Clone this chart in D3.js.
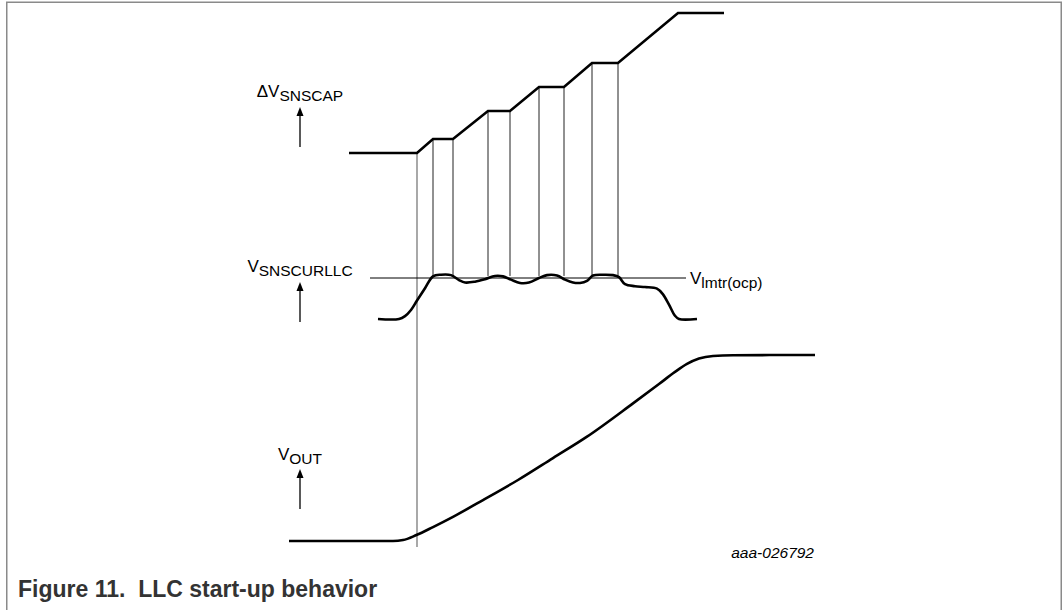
<!DOCTYPE html>
<html>
<head>
<meta charset="utf-8">
<script src="https://cdn.jsdelivr.net/npm/d3@7"></script>
<style>
  html, body { margin: 0; padding: 0; background: #fff; }
  svg { display: block; }
  text { font-family: "Liberation Sans", Arial, sans-serif; fill: #000; }
</style>
</head>
<body>
<svg id="chart" width="1063" height="610"></svg>
<script>
// ---- Data (time in arbitrary units, values in relative units) ----
// ΔV_SNSCAP staircase
const capTime  = [33, 67, 75, 85, 102.5, 113.5, 128, 140.5, 154.5, 167.5, 197.5, 220.5];
const capValue = [0, 0, 0.7, 0.7, 2.1, 2.1, 3.3, 3.3, 4.5, 4.5, 7, 7];
// indices of capTime that carry a vertical marker line
const markerIdx = [1, 2, 3, 4, 5, 6, 7, 8, 9];

// V_SNSCURLLC current-sense waveform
const curTime  = [47.5, 58, 61, 64, 67, 71, 75, 79, 84, 88, 91, 96, 101, 106, 110, 114, 118.5, 123, 128, 132, 137, 141, 145, 148.5, 152, 155, 160, 165, 168, 171, 176, 181, 187, 190, 193, 196, 198, 207];
const curValue = [0, 0, 0.07, 0.22, 0.45, 0.75, 1.04, 1.08, 1.07, 0.95, 0.89, 0.91, 0.97, 1.05, 1.04, 0.96, 0.88, 0.89, 1.0, 1.07, 1.06, 0.96, 0.89, 0.88, 0.93, 1.06, 1.08, 1.07, 1.02, 0.85, 0.8, 0.78, 0.74, 0.6, 0.35, 0.08, 0, 0];
// V_lmtr(ocp) reference level
const limitTime  = [43.5, 201.5];
const limitValue = 1.0;

// V_OUT ramp
const outTime  = [3, 55, 60, 66.7, 75, 85, 100, 117.5, 135, 152, 175, 188, 196, 202, 208, 215, 225, 266];
const outValue = [0, 0, 0.005, 0.032, 0.075, 0.13, 0.22, 0.328, 0.446, 0.561, 0.74, 0.844, 0.909, 0.952, 0.981, 0.995, 0.999, 1.0];

// Labels
const labels = [
  { pre: "\u0394V", sub: "SNSCAP" },
  { pre: "V", sub: "SNSCURLLC" },
  { pre: "V", sub: "OUT" }
];
const limitLabel = { pre: "V", sub: "lmtr(ocp)" };
const codeLabel = "aaa-026792";
const caption = "Figure 11.  LLC start-up behavior";

// ---- Drawing ----
const svg = d3.select("#chart");

const x = d3.scaleLinear().domain([0, 267]).range([283, 817]);
const yCap = d3.scaleLinear().domain([0, 7]).range([153, 13]);
const yCur = d3.scaleLinear().domain([0, 1]).range([319, 278]);
const yOut = d3.scaleLinear().domain([0, 1]).range([541, 355]);

// frame
svg.append("path")
  .attr("d", "M6.75,612 V2.25 H1061.25 V612")
  .attr("fill", "none").attr("stroke", "#8a8a8a").attr("stroke-width", 1.5);

// marker verticals
markerIdx.forEach((i, k) => {
  const t = capTime[i];
  const first = k === 0;
  svg.append("line")
    .attr("x1", x(t)).attr("x2", x(t))
    .attr("y1", yCap(capValue[i]))
    .attr("y2", first ? yOut(-0.032) : yCur(1.05))
    .attr("stroke", first ? "#7a7a7a" : "#222")
    .attr("stroke-width", first ? 1.3 : 1);
});

// limit reference line
svg.append("line")
  .attr("x1", x(limitTime[0])).attr("x2", x(limitTime[1]))
  .attr("y1", yCur(limitValue)).attr("y2", yCur(limitValue))
  .attr("stroke", "#000").attr("stroke-width", 1);

const thick = { stroke: "#000", w: 2.6 };

svg.append("path")
  .datum(d3.zip(capTime, capValue))
  .attr("d", d3.line().x(d => x(d[0])).y(d => yCap(d[1])))
  .attr("fill", "none").attr("stroke", thick.stroke).attr("stroke-width", thick.w)
  .attr("stroke-linejoin", "miter");

svg.append("path")
  .datum(d3.zip(curTime, curValue))
  .attr("d", d3.line().x(d => x(d[0])).y(d => yCur(d[1])).curve(d3.curveCatmullRom.alpha(0.5)))
  .attr("fill", "none").attr("stroke", thick.stroke).attr("stroke-width", thick.w)
  .attr("stroke-linejoin", "round");

svg.append("path")
  .datum(d3.zip(outTime, outValue))
  .attr("d", d3.line().x(d => x(d[0])).y(d => yOut(d[1])).curve(d3.curveMonotoneX))
  .attr("fill", "none").attr("stroke", thick.stroke).attr("stroke-width", thick.w);

// axis labels with arrows
const labelPos = [
  { cx: 300, base: 97, tip: 107, tail: 147 },
  { cx: 300, base: 272, tip: 282, tail: 322 },
  { cx: 300, base: 460, tip: 469, tail: 509 }
];

function subLabel(g, lab, px, py, anchor) {
  const t = g.append("text").attr("x", px).attr("y", py)
    .attr("text-anchor", anchor).style("font-size", "17px");
  t.append("tspan").text(lab.pre);
  t.append("tspan").attr("dy", 4).style("font-size", "15.5px").text(lab.sub);
}

labels.forEach((lab, i) => {
  const p = labelPos[i];
  subLabel(svg, lab, p.cx, p.base, "middle");
  svg.append("line")
    .attr("x1", p.cx).attr("x2", p.cx)
    .attr("y1", p.tip + 8).attr("y2", p.tail)
    .attr("stroke", "#000").attr("stroke-width", 1.3);
  svg.append("path")
    .attr("d", `M${p.cx},${p.tip} L${p.cx - 3.5},${p.tip + 9} L${p.cx + 3.5},${p.tip + 9} Z`)
    .attr("fill", "#000");
});

subLabel(svg, limitLabel, 690, 284, "start");

svg.append("text")
  .attr("x", 814).attr("y", 558)
  .attr("text-anchor", "end")
  .style("font-size", "15.5px").style("font-style", "italic")
  .text(codeLabel);

svg.append("text")
  .attr("x", 18).attr("y", 597)
  .attr("xml:space", "preserve")
  .style("white-space", "pre")
  .style("font-size", "23px").style("font-weight", "bold").style("fill", "#333")
  .text(caption);
</script>
</body>
</html>
